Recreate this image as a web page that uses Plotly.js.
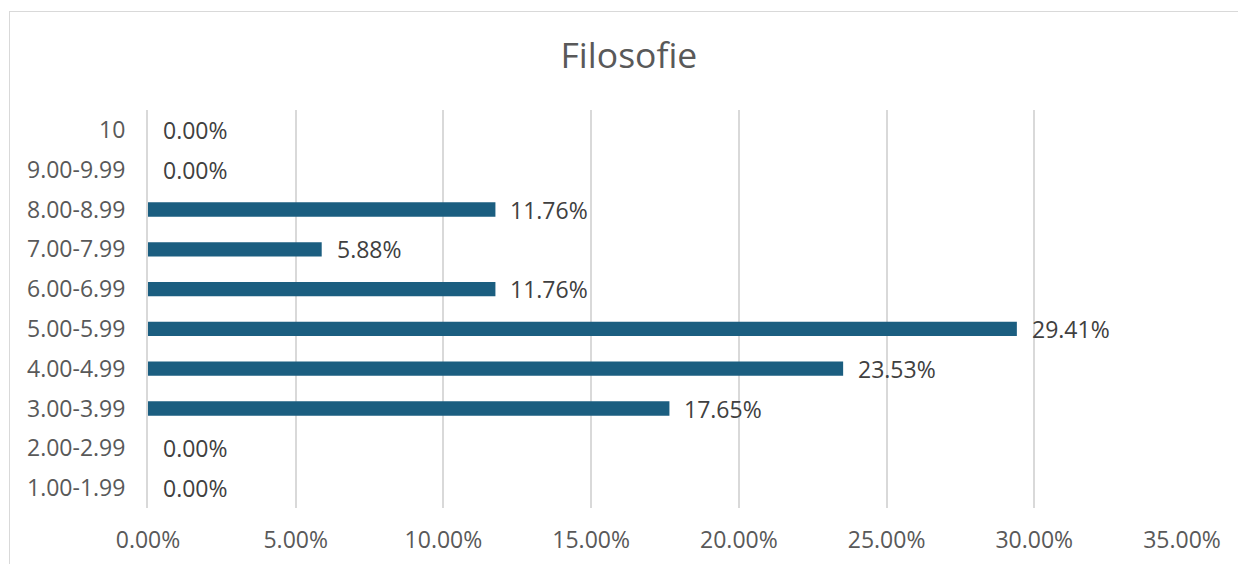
<!DOCTYPE html>
<html>
<head>
<meta charset="utf-8">
<script src="https://cdn.plot.ly/plotly-3.0.1.min.js"></script>
<style>
html,body{margin:0;padding:0;background:#fff;}
#wrap{position:relative;width:1238px;height:564px;overflow:hidden;}
#chart{width:1238px;height:564px;}
#frame{position:absolute;left:9px;top:11px;width:1300px;height:600px;border-left:1px solid #d9d9d9;border-top:1px solid #d9d9d9;pointer-events:none;}
</style>
</head>
<body>
<div id="wrap"><div id="chart"></div><div id="frame"></div></div>
<script>
const categories = ["1.00-1.99","2.00-2.99","3.00-3.99","4.00-4.99","5.00-5.99","6.00-6.99","7.00-7.99","8.00-8.99","9.00-9.99","10"];
const shares = [0, 0, 17.65, 23.53, 29.41, 11.76, 5.88, 11.76, 0, 0];
const tickValues = [0,5,10,15,20,25,30,35];
const tickLabels = ["0.00%","5.00%","10.00%","15.00%","20.00%","25.00%","30.00%","35.00%"];
const titleText = "Filosofie";

const FONT = "'Open Sans', 'Noto Sans', sans-serif";
const GREY = "#595959";
const FS = 23;

const trace = {
  type: "bar",
  orientation: "h",
  x: shares,
  y: categories,
  marker: {color: "#1b5e80"},
  width: 0.36,
  hoverinfo: "skip"
};

const annotations = shares.map((v, i) => ({
  x: v, y: i, xref: "x", yref: "y",
  text: v.toFixed(2) + "%",
  showarrow: false, xanchor: "left", yanchor: "middle",
  xshift: 13, yshift: 0,
  font: {family: FONT, size: FS, color: "#404040"}
}));

const layout = {
  width: 1238, height: 564,
  margin: {l: 148, r: 56, t: 110, b: 56, pad: 0},
  paper_bgcolor: "#fff", plot_bgcolor: "#fff",
  showlegend: false,
  title: {text: titleText, x: 0.508, xref: "container", y: 0.902, yref: "container", xanchor: "center", yanchor: "middle",
          font: {family: FONT, size: 35.5, color: GREY}},
  xaxis: {
    range: [0, 35], tickvals: tickValues, ticktext: tickLabels,
    showgrid: true, gridcolor: "#d9d9d9", gridwidth: 2,
    zeroline: false, showline: false,
    ticks: "outside", ticklen: 11, tickcolor: "rgba(0,0,0,0)",
    tickfont: {family: FONT, size: FS, color: GREY},
    fixedrange: true
  },
  yaxis: {
    type: "category", categoryorder: "array", categoryarray: categories,
    range: [-0.5, 9.5],
    showgrid: false, zeroline: false,
    showline: true, linecolor: "#d9d9d9", linewidth: 2,
    ticks: "outside", ticklen: 16, tickcolor: "rgba(0,0,0,0)",
    tickfont: {family: FONT, size: FS, color: GREY},
    fixedrange: true
  },
  annotations: annotations
};

Plotly.newPlot("chart", [trace], layout, {displayModeBar: false, staticPlot: true});
</script>
</body>
</html>
